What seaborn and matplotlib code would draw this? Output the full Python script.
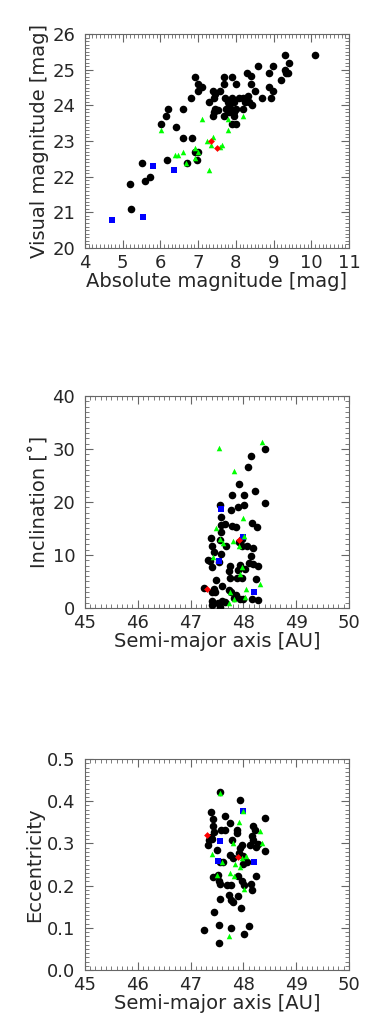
import numpy as np
import pandas as pd
import matplotlib
matplotlib.use("Agg")
import matplotlib.pyplot as plt
import seaborn as sns
from matplotlib.ticker import MultipleLocator

sns.set_style("white")
plt.rcParams['font.family'] = ['DejaVu Sans']

# ---------------- Panel 1: absolute vs visual magnitude ----------------
H_black = [10.09, 9.30, 9.40, 8.59, 8.99, 8.29, 8.88, 9.30, 9.33, 9.39, 8.41, 9.20, 6.91, 7.69, 7.91,
           7.00, 7.10, 7.69, 8.00, 8.39, 8.88, 8.99, 8.50, 7.00, 7.39, 7.59, 7.45, 7.41, 7.71, 7.89,
           8.09, 8.19, 8.31, 8.70, 8.92, 6.80, 7.28, 7.79, 7.95, 8.25, 8.34, 7.81, 7.86, 8.43, 6.21,
           6.59, 7.45, 7.52, 7.73, 8.00, 8.19, 7.41, 7.83, 7.95, 6.16, 7.40, 7.69, 7.95, 6.01, 7.89,
           8.00, 6.41, 6.61, 6.83, 6.91, 7.00, 6.96, 6.70, 6.18, 5.51, 5.72, 5.59, 5.19, 5.23]
V_black = [25.40, 25.40, 25.20, 25.10, 25.10, 24.90, 24.90, 24.98, 24.90, 24.90, 24.81, 24.70, 24.80, 24.80, 24.80,
           24.60, 24.51, 24.60, 24.60, 24.60, 24.51, 24.40, 24.40, 24.40, 24.40, 24.40, 24.31, 24.20, 24.20, 24.20,
           24.20, 24.20, 24.27, 24.20, 24.20, 24.20, 24.10, 24.10, 24.10, 24.10, 24.10, 24.00, 23.91, 24.00, 23.91,
           23.91, 23.91, 23.86, 23.91, 23.91, 23.91, 23.80, 23.80, 23.80, 23.69, 23.69, 23.69, 23.69, 23.49, 23.49,
           23.49, 23.40, 23.09, 23.09, 22.69, 22.69, 22.48, 22.39, 22.48, 22.39, 21.98, 21.88, 21.79, 21.09]
H_green = [6.01, 7.10, 7.78, 8.18, 7.80, 7.39, 7.23, 7.34, 7.63, 7.59, 6.91, 6.40, 6.46, 6.61, 7.00, 6.67, 6.91, 7.30]
V_green = [23.30, 23.61, 23.61, 23.70, 23.30, 23.12, 23.00, 22.88, 22.88, 22.82, 22.81, 22.60, 22.60, 22.70, 22.68, 22.39, 22.51, 22.20]
H_blue = [4.71, 5.55, 5.81, 6.37]
V_blue = [20.78, 20.87, 22.29, 22.19]
H_red = [7.33, 7.50]
V_red = [23.00, 22.80]

# ---------------- Panel 2: semi-major axis vs inclination ----------------
a2_black = [48.40, 48.14, 48.08, 47.92, 47.78, 48.02, 48.22, 48.40, 47.56, 47.90, 48.01, 47.77, 47.57, 47.57,
            47.65, 47.79, 47.86, 48.17, 48.25, 47.57, 47.38, 47.55, 47.41, 47.68, 47.98, 48.07, 48.19, 47.45,
            47.58, 48.15, 47.33, 47.36, 47.53, 47.41, 47.75, 47.93, 48.11, 48.19, 48.28, 47.73, 47.90, 48.03,
            47.75, 47.88, 47.98, 48.23, 47.49, 47.59, 47.72, 47.44, 47.26, 47.41, 47.47, 47.86, 47.77, 47.82,
            47.93, 48.00, 48.17, 48.28, 47.40, 47.41, 47.51, 47.55, 47.66, 47.60, 47.98, 47.92]
i2_black = [30.0, 28.6, 26.6, 23.3, 21.3, 21.3, 22.1, 19.75, 19.4, 19.1, 19.4, 18.5, 17.1, 15.6,
            15.75, 15.5, 15.2, 16.0, 15.25, 14.4, 13.2, 12.75, 11.7, 11.6, 11.75, 11.6, 11.4, 10.5,
            10.2, 9.75, 9.1, 8.9, 8.6, 7.7, 8.0, 8.1, 8.4, 8.2, 8.0, 6.9, 7.25, 7.4,
            5.6, 5.6, 5.6, 5.5, 5.2, 4.1, 3.4, 3.6, 3.8, 3.0, 3.0, 2.5, 3.0, 1.9,
            1.75, 1.6, 1.75, 1.5, 1.4, 0.5, 1.0, 0.1, 1.1, 1.25, 13.1, 12.5]
a2_green = [48.35, 47.54, 47.83, 48.00, 47.49, 47.55, 47.61, 47.81, 47.92, 48.01, 47.43, 47.98, 47.93,
            48.31, 48.04, 47.75, 48.03, 47.83, 47.72]
i2_green = [31.4, 30.1, 25.8, 17.0, 15.1, 13.0, 12.25, 12.6, 11.6, 13.5, 9.6, 7.8, 6.4,
            4.6, 3.6, 3.0, 2.0, 1.6, 0.9]
a2_blue = [47.57, 47.53, 48.00, 48.20]
i2_blue = [18.75, 8.9, 13.4, 3.1]
a2_red = [47.91, 47.32]
i2_red = [12.9, 3.6]

# ---------------- Panel 3: semi-major axis vs eccentricity ----------------
a3_black = [47.56, 47.94, 47.39, 47.42, 47.66, 48.40, 47.75, 47.42, 48.18, 47.88, 47.88, 47.44, 47.57,
            47.65, 48.22, 47.39, 47.35, 47.41, 48.16, 47.33, 47.50, 47.78, 47.98, 47.93, 48.13, 48.24,
            48.27, 48.40, 47.75, 47.81, 47.92, 47.99, 48.07, 47.99, 47.62, 47.56, 48.24, 47.43, 47.51,
            47.54, 47.56, 47.90, 47.98, 48.02, 48.14, 48.17, 47.69, 47.76, 47.73, 47.90, 47.77, 47.80,
            47.56, 47.95, 47.44, 47.53, 47.77, 48.10, 47.26, 48.02, 47.54, 48.18]
e3_black = [0.422, 0.404, 0.374, 0.359, 0.365, 0.361, 0.348, 0.342, 0.342, 0.332, 0.325, 0.328, 0.332,
            0.333, 0.333, 0.316, 0.308, 0.311, 0.317, 0.296, 0.284, 0.308, 0.296, 0.289, 0.296, 0.292,
            0.299, 0.281, 0.273, 0.265, 0.278, 0.270, 0.256, 0.252, 0.256, 0.257, 0.223, 0.221, 0.225,
            0.212, 0.204, 0.222, 0.212, 0.201, 0.205, 0.190, 0.201, 0.201, 0.179, 0.176, 0.165, 0.161,
            0.168, 0.148, 0.138, 0.107, 0.100, 0.104, 0.096, 0.085, 0.064, 0.309]
a3_green = [47.56, 48.00, 47.92, 48.31, 48.35, 47.81, 47.41, 47.60, 47.98, 48.04, 47.84, 47.93, 47.75,
            47.83, 47.50, 48.02, 47.72]
e3_green = [0.419, 0.378, 0.351, 0.330, 0.302, 0.300, 0.276, 0.257, 0.265, 0.270, 0.251, 0.245, 0.231,
            0.223, 0.225, 0.193, 0.080]
a3_blue = [48.00, 47.55, 47.52, 48.20]
e3_blue = [0.378, 0.307, 0.259, 0.256]
a3_red = [47.31, 47.90]
e3_red = [0.319, 0.269]

fig = plt.figure(figsize=(3.79, 10.24), dpi=100)
left, width = 0.224, 0.697
ax1 = fig.add_axes([left, 0.7578, width, 0.209])
ax2 = fig.add_axes([left, 0.4063, width, 0.207])
ax3 = fig.add_axes([left, 0.0527, width, 0.206])

def draw(ax, xb, yb, xbl, ybl, xg, yg, xr, yr):
    sns.scatterplot(x=xb, y=yb, ax=ax, color='black', marker='o', s=30, linewidth=0, zorder=3)
    sns.scatterplot(x=xbl, y=ybl, ax=ax, color='#0000FF', marker='s', s=24, linewidth=0, zorder=4)
    sns.scatterplot(x=xg, y=yg, ax=ax, color='#00FF00', marker='^', s=16, linewidth=0, zorder=5)
    sns.scatterplot(x=xr, y=yr, ax=ax, color='#FF0000', marker='D', s=12, linewidth=0, zorder=6)

draw(ax1, H_black, V_black, H_blue, V_blue, H_green, V_green, H_red, V_red)
draw(ax2, a2_black, i2_black, a2_blue, i2_blue, a2_green, i2_green, a2_red, i2_red)
draw(ax3, a3_black, e3_black, a3_blue, e3_blue, a3_green, e3_green, a3_red, e3_red)

ax1.set_xlim(4, 11); ax1.set_ylim(20, 26)
ax1.xaxis.set_major_locator(MultipleLocator(1)); ax1.xaxis.set_minor_locator(MultipleLocator(0.1))
ax1.yaxis.set_major_locator(MultipleLocator(1)); ax1.yaxis.set_minor_locator(MultipleLocator(0.1))
ax1.set_xlabel("Absolute magnitude [mag]")
ax1.set_ylabel("Visual magnitude [mag]")

ax2.set_xlim(45, 50); ax2.set_ylim(0, 40)
ax2.xaxis.set_major_locator(MultipleLocator(1)); ax2.xaxis.set_minor_locator(MultipleLocator(0.1))
ax2.yaxis.set_major_locator(MultipleLocator(10)); ax2.yaxis.set_minor_locator(MultipleLocator(1))
ax2.set_xlabel("Semi-major axis [AU]")
ax2.set_ylabel("Inclination [˚]")

ax3.set_xlim(45, 50); ax3.set_ylim(0, 0.5)
ax3.xaxis.set_major_locator(MultipleLocator(1)); ax3.xaxis.set_minor_locator(MultipleLocator(0.1))
ax3.yaxis.set_major_locator(MultipleLocator(0.1)); ax3.yaxis.set_minor_locator(MultipleLocator(0.01))
ax3.set_xlabel("Semi-major axis [AU]")
ax3.set_ylabel("Eccentricity")

for ax in (ax1, ax2, ax3):
    for sp in ax.spines.values():
        sp.set_visible(True)
        sp.set_color('#666666')
        sp.set_linewidth(0.8)
    ax.tick_params(which='both', direction='in', top=True, right=True, bottom=True, left=True,
                   color='#666666', labelsize=13)
    ax.tick_params(axis='x', which='both', pad=4)
    ax.tick_params(axis='y', which='both', pad=7)
    ax.tick_params(which='major', length=6, width=0.8)
    ax.tick_params(which='minor', length=3, width=0.6)
    ax.xaxis.label.set_size(14)
    ax.yaxis.label.set_size(14)
    ax.xaxis.labelpad = 0
    ax.yaxis.labelpad = 2

fig.savefig("out.png", dpi=100)
